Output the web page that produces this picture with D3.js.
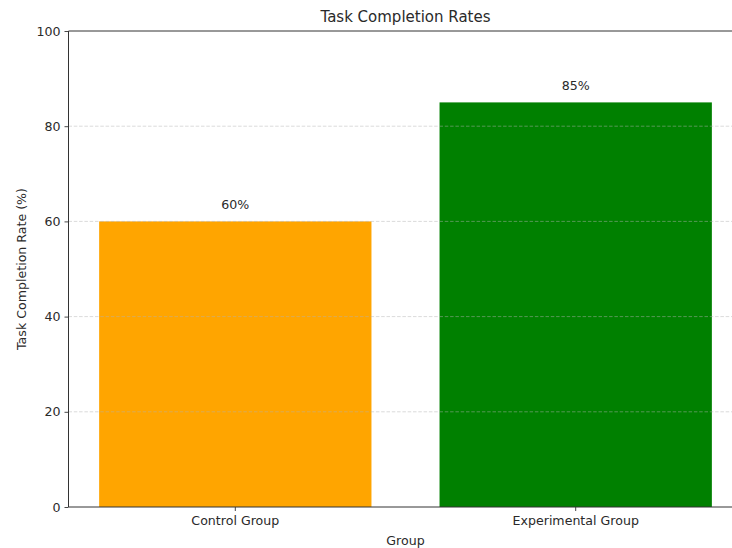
<!DOCTYPE html>
<html>
<head>
<meta charset="utf-8">
<script src="https://cdn.jsdelivr.net/npm/d3@7"></script>
<style>
  html, body { margin: 0; padding: 0; background: #fff; }
  svg { display: block; font-family: "DejaVu Sans", sans-serif; }
</style>
</head>
<body>
<svg id="chart" width="732" height="548"></svg>
<script>
const categories = ["Control Group", "Experimental Group"];
const values = [60, 85];
const barColors = ["#FFA500", "#008000"];
const yTicks = [0, 20, 40, 60, 80, 100];
const gridTicks = [20, 40, 60, 80];

const svg = d3.select("#chart");
const plotLeft = 68.5, plotRight = 742.5, plotTop = 31, plotBottom = 507;
const textColor = "#2a2a2a";
const fs = 12.6;

const x = d3.scaleBand().domain(categories).range([plotLeft, plotRight])
  .paddingInner(0.2).paddingOuter(0.09);
const y = d3.scaleLinear().domain([0, 100]).range([plotBottom, plotTop]);

// bars
svg.append("g").selectAll("rect").data(categories).join("rect")
  .attr("x", d => x(d))
  .attr("width", x.bandwidth())
  .attr("y", (d, i) => y(values[i]))
  .attr("height", (d, i) => y(0) - y(values[i]))
  .attr("fill", (d, i) => barColors[i]);

// grid (drawn above bars)
svg.append("g").selectAll("line").data(gridTicks).join("line")
  .attr("x1", plotLeft).attr("x2", plotRight)
  .attr("y1", d => y(d)).attr("y2", d => y(d))
  .attr("stroke", "#b0b0b0").attr("stroke-opacity", 0.6)
  .attr("stroke-width", 0.8).attr("stroke-dasharray", "3.5,1.8");

// value labels
svg.append("g").selectAll("text").data(categories).join("text")
  .attr("x", d => x(d) + x.bandwidth() / 2)
  .attr("y", (d, i) => y(values[i]) - 12)
  .attr("text-anchor", "middle")
  .attr("font-size", fs).attr("fill", textColor)
  .text((d, i) => values[i] + "%");

// axes
const yAxis = d3.axisLeft(y).tickValues(yTicks).tickSize(4).tickPadding(4);
const gy = svg.append("g").attr("transform", `translate(${plotLeft},0)`).call(yAxis);
const xAxis = d3.axisBottom(x).tickSize(4).tickPadding(5);
const gx = svg.append("g").attr("transform", `translate(0,${plotBottom})`).call(xAxis);
[gx, gy].forEach(g => {
  g.selectAll("path.domain").remove();
  g.selectAll("line").attr("stroke", "#333").attr("stroke-width", 0.9);
  g.selectAll("text").attr("font-size", fs).attr("fill", textColor)
    .attr("font-family", "DejaVu Sans, sans-serif");
});

// spines
const spine = svg.append("g").attr("stroke", "#333").attr("stroke-width", 1).attr("fill", "none");
spine.append("line").attr("x1", plotLeft).attr("x2", plotLeft).attr("y1", plotTop).attr("y2", plotBottom);
spine.append("line").attr("x1", plotLeft).attr("x2", plotRight).attr("y1", plotBottom).attr("y2", plotBottom);
spine.append("line").attr("x1", plotLeft).attr("x2", plotRight).attr("y1", plotTop).attr("y2", plotTop);
spine.append("line").attr("x1", plotRight).attr("x2", plotRight).attr("y1", plotTop).attr("y2", plotBottom);

// title and axis labels
svg.append("text").attr("x", (plotLeft + plotRight) / 2).attr("y", 21.5)
  .attr("text-anchor", "middle").attr("font-size", 15).attr("fill", textColor)
  .text("Task Completion Rates");
svg.append("text").attr("x", (plotLeft + plotRight) / 2).attr("y", 545)
  .attr("text-anchor", "middle").attr("font-size", fs).attr("fill", textColor)
  .text("Group");
svg.append("text")
  .attr("transform", `translate(26,${(plotTop + plotBottom) / 2}) rotate(-90)`)
  .attr("text-anchor", "middle").attr("font-size", fs).attr("fill", textColor)
  .text("Task Completion Rate (%)");
</script>
</body>
</html>
